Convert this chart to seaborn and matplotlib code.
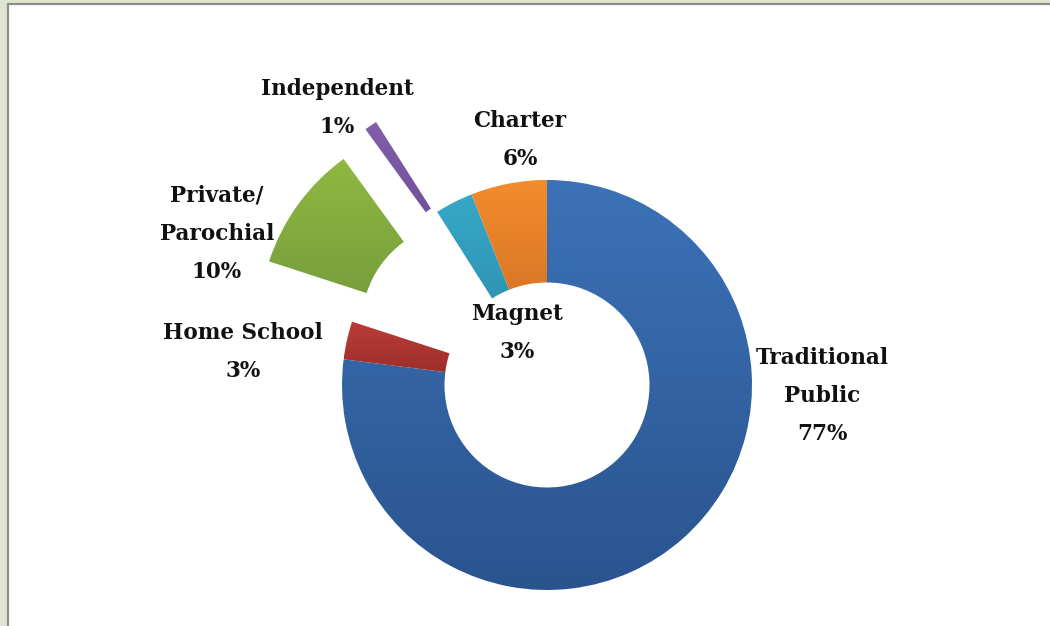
import numpy as np
import matplotlib
matplotlib.use("Agg")
import matplotlib.pyplot as plt
from matplotlib.patches import Rectangle
from matplotlib.lines import Line2D
from matplotlib.colors import LinearSegmentedColormap
import seaborn as sns

# ---- data ----
categories = ["Traditional\nPublic", "Home School", "Private/\nParochial",
              "Independent", "Magnet", "Charter"]
shares = [77, 3, 10, 1, 3, 6]
exploded = [0.0, 0.0, 0.5, 0.53, 0.0, 0.0]

# ---- styles ----
top_colors = ["#3C72B8", "#BA3D37", "#8FB842", "#8060AA", "#37A8C8", "#F28C2E"]
bot_colors = ["#2A548E", "#972B29", "#72993A", "#63448C", "#2886A2", "#C8661E"]
label_pos_px = [(822, 396), (243, 352), (217, 234), (337, 108), (517, 333), (520, 140)]

W, H = 1050, 626
CX, CY, R = 547, 385, 205

sns.set_theme(style="white")
plt.rcParams['font.family'] = ['DejaVu Serif', 'Liberation Serif']

fig = plt.figure(figsize=(W / 100, H / 100), dpi=100)
fig.patch.set_facecolor("#dfe6cf")
fig.add_artist(Rectangle((9 / W, 0), 1, (H - 5) / H, transform=fig.transFigure,
                         facecolor="white", edgecolor="none", zorder=0))
fig.add_artist(Line2D([8 / W, 8 / W], [0, (H - 4) / H], transform=fig.transFigure,
                      color="#8c8c8c", lw=1.6, zorder=1))
fig.add_artist(Line2D([8 / W, 1], [(H - 4) / H, (H - 4) / H], transform=fig.transFigure,
                      color="#8c8c8c", lw=1.6, zorder=1))

ax = fig.add_axes([0, 0, 1, 1])
ax.set_facecolor("none")

wedges, _ = ax.pie(shares, explode=exploded, startangle=90, counterclock=False,
                   radius=1.0, wedgeprops=dict(width=0.5, linewidth=0, edgecolor="none"),
                   colors=top_colors)
ax.set_xlim(-CX / R, (W - CX) / R)
ax.set_ylim(-(H - CY) / R, CY / R)
ax.set_aspect("equal")
ax.axis("off")

grad = np.linspace(0, 1, 256).reshape(-1, 1)
for w, tc, bc in zip(wedges, top_colors, bot_colors):
    verts = w.get_path().vertices
    x0, x1 = verts[:, 0].min(), verts[:, 0].max()
    y0, y1 = verts[:, 1].min(), verts[:, 1].max()
    cmap = LinearSegmentedColormap.from_list("g", [bc, tc])
    im = ax.imshow(grad, cmap=cmap, origin="lower", extent=[x0, x1, y0, y1],
                   aspect="auto", interpolation="bilinear", zorder=2)
    im.set_clip_path(w)
    w.set_facecolor("none")

ax.set_xlim(-CX / R, (W - CX) / R)
ax.set_ylim(-(H - CY) / R, CY / R)

for cat, val, (px, py) in zip(categories, shares, label_pos_px):
    ax.text((px - CX) / R, (CY - py) / R, f"{cat}\n{val}%", ha="center", va="center",
            fontsize=15.5, fontweight="bold", color="#111111", linespacing=1.95, zorder=5)

fig.savefig("out.png", dpi=100, facecolor=fig.get_facecolor())
